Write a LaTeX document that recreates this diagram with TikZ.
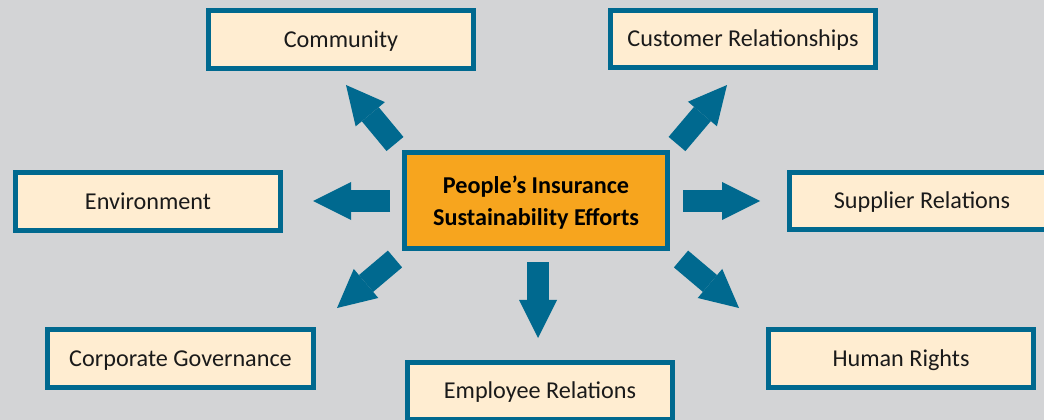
\documentclass[tikz,border=0pt]{standalone}
\usepackage{fontspec}
\setmainfont{Carlito}
\usetikzlibrary{arrows.meta}
\definecolor{bg}{HTML}{D3D4D6}
\definecolor{teal}{HTML}{00698F}
\definecolor{cream}{HTML}{FFEDD1}
\definecolor{gold}{HTML}{F7A51E}
\definecolor{ink}{HTML}{1A1A1A}
\tikzset{
  topic/.style={draw=teal, line width=0.125cm, fill=cream, minimum width=6.625cm,
    minimum height=1.425cm, inner sep=0pt, text=ink, text height=11.5pt, text depth=0.5pt,
    font=\fontsize{17.2}{20}\selectfont},
  hub/.style={draw=teal, line width=0.125cm, fill=gold, minimum width=6.575cm,
    minimum height=2.4cm, inner sep=0pt, align=center, text=black, text depth=0pt,
    font=\fontsize{17.2}{22.5}\selectfont\bfseries},
  blockarrow/.style={draw=teal, line width=0.55cm,
    -{Triangle[width=0.95cm,length=0.95cm,line width=0pt]}}
}
\begin{document}
\begin{tikzpicture}[x=0.025cm,y=-0.025cm]
\useasboundingbox (0,0) rectangle (1044,420);
\fill[bg] (0,0) rectangle (1044,420);

\node[hub] (hub) at (536,200.5) {People’s Insurance\\Sustainability Efforts};

\node[topic] (community) at (341,39.5) {Community};
\node[topic] (customer) at (743,39) {Customer Relationships};
\node[topic] (environment) at (148,201.5) {Environment};
\node[topic] (supplier) at (922,201) {Supplier Relations};
\node[topic] (corporate) at (180.5,358.5) {Corporate Governance};
\node[topic] (employee) at (540,391) {Employee Relations};
\node[topic] (human) at (901,358.5) {Human Rights};

\coordinate (ulA) at (395,144); \coordinate (ulB) at (346,85);
\coordinate (urA) at (677,144); \coordinate (urB) at (727,85);
\coordinate (lA) at (390,201);  \coordinate (lB) at (313,201);
\coordinate (rA) at (683,201);  \coordinate (rB) at (760,201);
\coordinate (dlA) at (395,259); \coordinate (dlB) at (337,308);
\coordinate (dA) at (538,262);  \coordinate (dB) at (538,338);
\coordinate (drA) at (681,259); \coordinate (drB) at (739,308);

\draw[blockarrow] (ulA) -- (ulB);
\draw[blockarrow] (urA) -- (urB);
\draw[blockarrow] (lA) -- (lB);
\draw[blockarrow] (rA) -- (rB);
\draw[blockarrow] (dlA) -- (dlB);
\draw[blockarrow] (dA) -- (dB);
\draw[blockarrow] (drA) -- (drB);
\end{tikzpicture}
\end{document}
